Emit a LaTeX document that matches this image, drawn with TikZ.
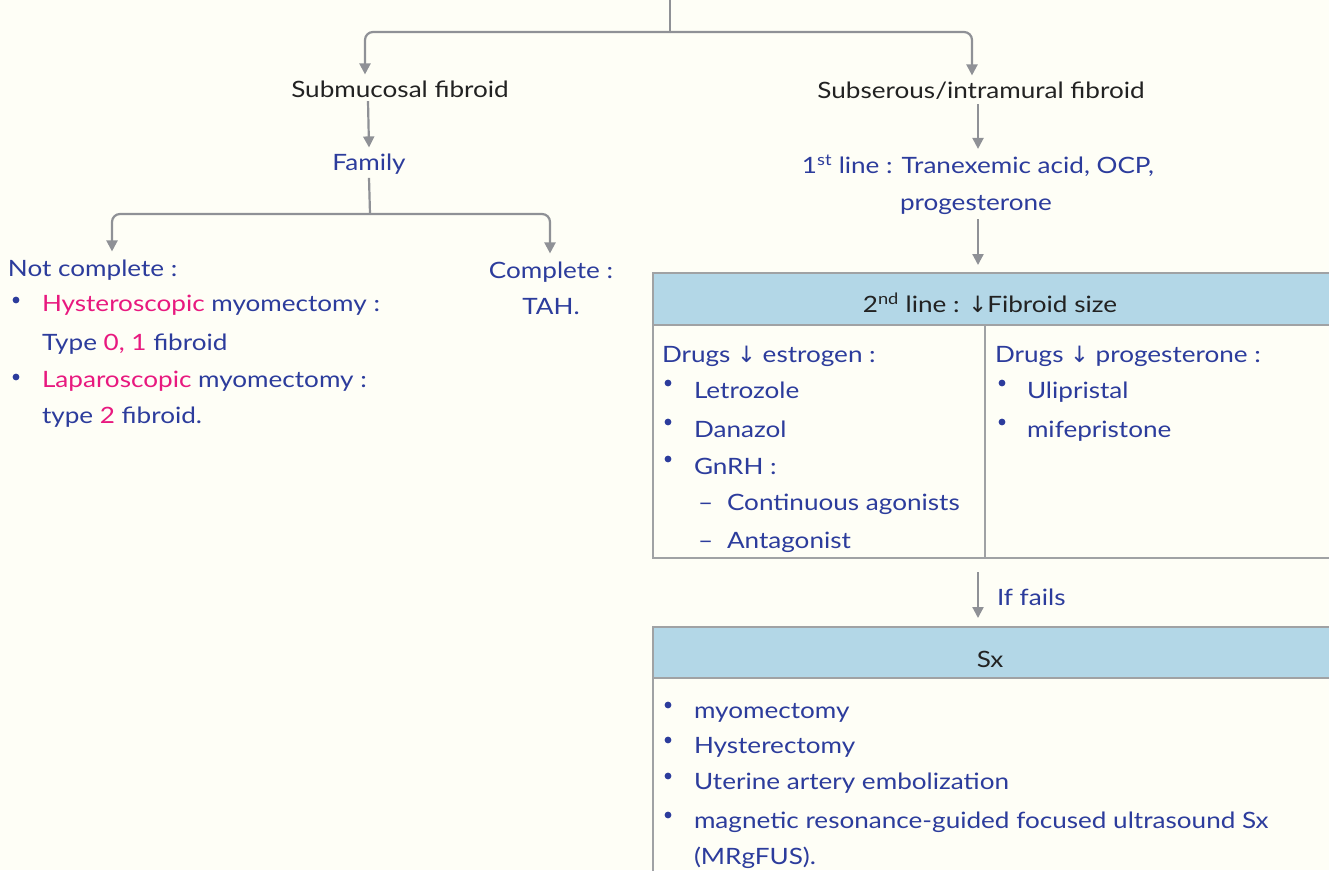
\documentclass[tikz,border=0pt]{standalone}
\usepackage{fontspec}
\setmainfont{Lato}[FakeStretch=1.16]
\newfontfamily\sym{DejaVu Sans}
\usetikzlibrary{arrows.meta}
\definecolor{bg}{HTML}{FEFEF6}
\definecolor{ink}{HTML}{2C3C9C}
\definecolor{pinkc}{HTML}{E8197F}
\definecolor{conncol}{HTML}{8F9196}
\definecolor{hdr}{HTML}{B3D7E7}
\definecolor{rulecol}{HTML}{A0A2A4}
\definecolor{blk}{HTML}{222222}
\newcommand{\dn}{{\sym\char"2193}}
\begin{document}
\begin{tikzpicture}[x=1pt,y=-1pt,
  font=\fontsize{22.5}{26}\selectfont,
  every node/.style={inner sep=0pt, outer sep=0pt},
  ctr/.style={anchor=base},
  lft/.style={anchor=base west},
  bluetxt/.style={text=ink},
  blacktxt/.style={text=blk},
  connline/.style={draw=conncol, line width=2.2pt, rounded corners=8pt},
  conn/.style={connline, -{Triangle[length=11pt,width=11pt]}},
  tablebox/.style={draw=rulecol, line width=2pt},
  hdrbox/.style={draw=rulecol, line width=2pt, fill=hdr},
  dot/.style={fill=ink}
]
\useasboundingbox (0,0) rectangle (1329,870);
\fill[bg] (0,0) rectangle (1329,870);

% top split
\coordinate (top) at (670,-2);
\coordinate (split) at (670,32);
\node[ctr,blacktxt] (sub) at (400,97) {Submucosal fibroid};
\node[ctr,blacktxt] (subs) at (981,98) {Subserous/intramural fibroid};
\draw[connline] (top) -- (split);
\draw[conn] (split) -| ([xshift=-35pt,yshift=6pt]sub.north);
\draw[conn] (split) -| ([xshift=-9pt,yshift=6pt]subs.north);

% left branch
\node[ctr,bluetxt] (fam) at (369,170) {Family};
\draw[conn] ([xshift=-32pt,yshift=-4pt]sub.south) -- ([yshift=6pt]fam.north);
\coordinate (fsplit) at (370,214);
\draw[connline] ([yshift=-4pt]fam.south) -- (fsplit);
\node[lft,bluetxt] (nc) at (8,276) {Not complete :};
\node[ctr,bluetxt] (comp) at (551,278) {Complete :};
\node[ctr,bluetxt] (tah) at (551,314) {TAH.};
\draw[conn] (fsplit) -| ([xshift=104pt,yshift=8pt]nc.north west);
\draw[conn] (fsplit) -| ([xshift=-1pt,yshift=8pt]comp.north);

\fill[dot] (16,300) circle (3.4pt);
\node[lft,bluetxt] (h1) at (42,311) {\textcolor{pinkc}{Hysteroscopic} myomectomy :};
\node[lft,bluetxt] (h2) at (42,350) {Type \textcolor{pinkc}{0, 1} fibroid};
\fill[dot] (16,377) circle (3.4pt);
\node[lft,bluetxt] (l1) at (42,387) {\textcolor{pinkc}{Laparoscopic} myomectomy :};
\node[lft,bluetxt] (l2) at (42,423) {type \textcolor{pinkc}{2} fibroid.};

% right branch
\node[ctr,bluetxt] (first) at (978,173) {1\textsuperscript{st} line : Tranexemic acid, OCP,};
\node[ctr,bluetxt] (first2) at (976,210) {progesterone};
\draw[conn] ([xshift=-3pt,yshift=-5pt]subs.south) -- ([xshift=0pt,yshift=6pt]first.north);

% table 1
\path[hdrbox] (653,273) rectangle (1336,325);
\path[tablebox] (653,325) rectangle (1336,558);
\draw[tablebox] (985,325) -- (985,558);
\node[ctr,blacktxt] (t1h) at (990,312) {2\textsuperscript{nd} line : \dn Fibroid size};
\coordinate (t1top) at (978,273);
\draw[conn] ([xshift=2pt,yshift=-5pt]first2.south) -- ([yshift=8pt]t1top);

\node[lft,bluetxt] (de) at (662,362) {Drugs \dn\ estrogen :};
\fill[dot] (668,383) circle (3.4pt);
\node[lft,bluetxt] (let) at (694,398) {Letrozole};
\fill[dot] (668,422) circle (3.4pt);
\node[lft,bluetxt] (dan) at (694,437) {Danazol};
\fill[dot] (668,459) circle (3.4pt);
\node[lft,bluetxt] (gn) at (694,474) {GnRH :};
\node[lft,bluetxt] (ca) at (698,510) {\makebox[29pt][l]{--}Continuous agonists};
\node[lft,bluetxt] (an) at (698,548) {\makebox[29pt][l]{--}Antagonist};

\node[lft,bluetxt] (dp) at (995,362) {Drugs \dn\ progesterone :};
\fill[dot] (1002,383) circle (3.4pt);
\node[lft,bluetxt] (uli) at (1027,398) {Ulipristal};
\fill[dot] (1002,422) circle (3.4pt);
\node[lft,bluetxt] (mif) at (1027,437) {mifepristone};

% if fails
\coordinate (t1bot) at (978,558);
\coordinate (t2top) at (978,627);
\draw[conn] ([yshift=-14pt]t1bot) -- ([yshift=9pt]t2top);
\node[lft,bluetxt] (iff) at (997,605) {If fails};

% table 2
\path[hdrbox] (653,627) rectangle (1336,678);
\path[tablebox] (653,678) rectangle (1336,880);
\node[ctr,blacktxt] (sx) at (990,667) {Sx};
\fill[dot] (668,705) circle (3.4pt);
\node[lft,bluetxt] (my) at (694,718) {myomectomy};
\fill[dot] (668,740) circle (3.4pt);
\node[lft,bluetxt] (hy) at (694,753) {Hysterectomy};
\fill[dot] (668,776) circle (3.4pt);
\node[lft,bluetxt] (ua) at (694,789) {Uterine artery embolization};
\fill[dot] (668,815) circle (3.4pt);
\node[lft,bluetxt] (mr) at (694,828) {magnetic resonance-guided focused ultrasound Sx};
\node[lft,bluetxt] (mr2) at (694,864) {(MRgFUS).};
\end{tikzpicture}
\end{document}
